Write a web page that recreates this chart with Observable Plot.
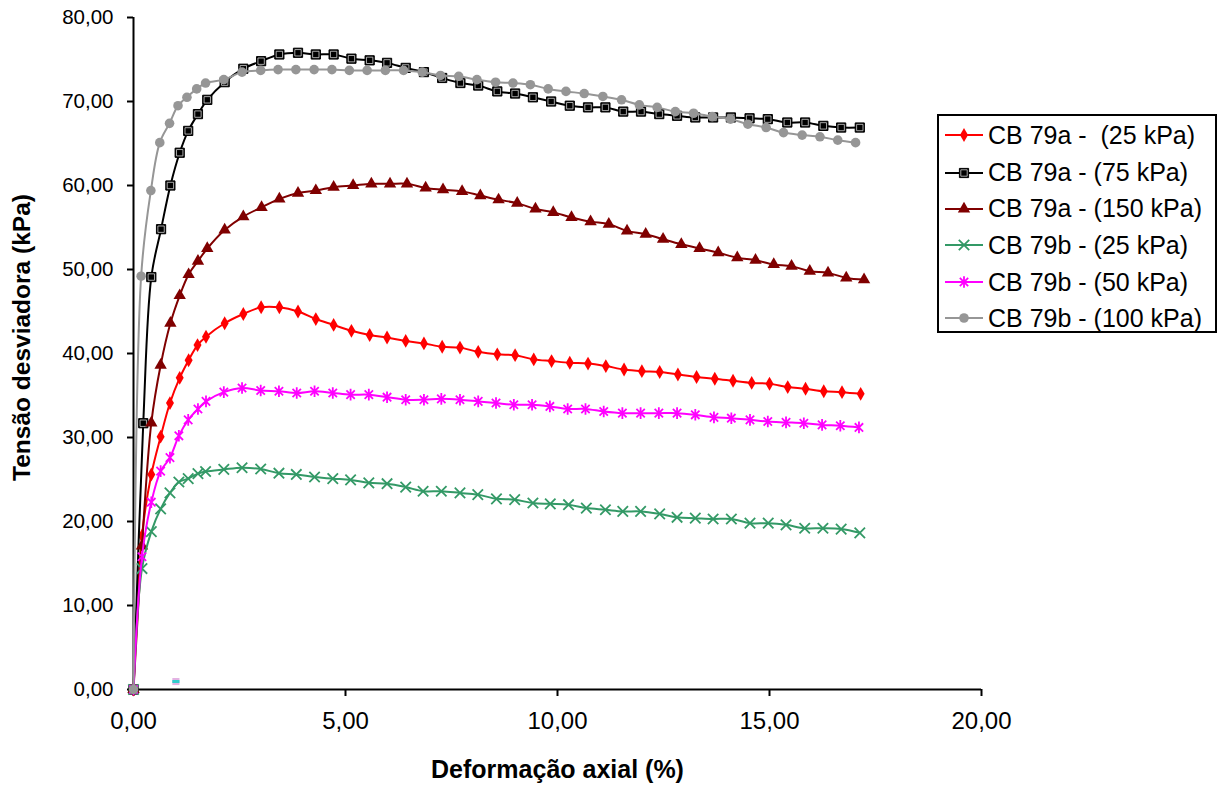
<!DOCTYPE html>
<html><head><meta charset="utf-8">
<script src="https://cdn.jsdelivr.net/npm/d3@7"></script>
<script src="https://cdn.jsdelivr.net/npm/@observablehq/plot@0.6"></script>
<style>
body{margin:0;background:#fff;font-family:"Liberation Sans",Arial,sans-serif;}
#wrap{position:relative;width:1224px;height:794px;}
#legend{position:absolute;left:937px;top:114px;width:276px;height:215px;border:2px solid #000;background:#fff;box-sizing:content-box;}
.row{position:absolute;left:6px;height:30px;display:flex;align-items:center;}
.row span{font-size:25px;margin-left:5px;white-space:pre;color:#000;}
</style></head><body><div id="wrap"></div>
<script>
// ---- data ----
const xTicks = [0, 5, 10, 15, 20];
const yTicks = [0, 10, 20, 30, 40, 50, 60, 70, 80];
const seriesNames = ["CB 79a -  (25 kPa)", "CB 79a - (75 kPa)", "CB 79a - (150 kPa)", "CB 79b - (25 kPa)", "CB 79b - (50 kPa)", "CB 79b - (100 kPa)"];

const x_79a_25 = [0, 0.2, 0.42, 0.64, 0.86, 1.09, 1.30, 1.51, 1.71, 2.15, 2.59, 3.01, 3.44, 3.88, 4.30, 4.72, 5.14, 5.57, 5.98, 6.42, 6.85, 7.28, 7.70, 8.13, 8.58, 9.0, 9.44, 9.86, 10.29, 10.72, 11.14, 11.57, 11.99, 12.41, 12.84, 13.28, 13.71, 14.14, 14.58, 15.0, 15.43, 15.85, 16.28, 16.71, 17.15];
const y_79a_25 = [0, 18.3, 25.6, 30.1, 34.1, 37.1, 39.2, 41.0, 42.0, 43.6, 44.7, 45.5, 45.5, 45.0, 44.1, 43.4, 42.7, 42.2, 41.9, 41.5, 41.2, 40.8, 40.7, 40.2, 39.9, 39.8, 39.3, 39.1, 38.9, 38.8, 38.5, 38.1, 37.9, 37.8, 37.5, 37.2, 37.0, 36.75, 36.5, 36.4, 36.0, 35.8, 35.5, 35.4, 35.2];

const x_79a_75 = [0, 0.23, 0.42, 0.65, 0.87, 1.09, 1.29, 1.52, 1.74, 2.15, 2.59, 3.01, 3.44, 3.88, 4.30, 4.72, 5.14, 5.57, 5.98, 6.42, 6.85, 7.28, 7.71, 8.13, 8.58, 9.0, 9.42, 9.85, 10.29, 10.72, 11.13, 11.55, 11.97, 12.40, 12.82, 13.25, 13.67, 14.09, 14.53, 14.96, 15.42, 15.84, 16.27, 16.69, 17.13];
const y_79a_75 = [0, 31.7, 49.1, 54.8, 60.0, 63.9, 66.5, 68.5, 70.2, 72.3, 73.9, 74.8, 75.6, 75.8, 75.6, 75.6, 75.1, 74.9, 74.6, 74.0, 73.5, 72.8, 72.2, 71.9, 71.2, 70.95, 70.5, 70.0, 69.5, 69.3, 69.3, 68.8, 68.8, 68.5, 68.3, 68.1, 68.1, 68.1, 68.0, 67.9, 67.5, 67.5, 67.1, 66.9, 66.9];

const x_79a_150 = [0, 0.2, 0.42, 0.64, 0.87, 1.09, 1.30, 1.52, 1.74, 2.15, 2.59, 3.02, 3.44, 3.88, 4.30, 4.72, 5.18, 5.61, 6.05, 6.45, 6.89, 7.30, 7.75, 8.18, 8.61, 9.05, 9.48, 9.90, 10.33, 10.78, 11.21, 11.64, 12.08, 12.49, 12.92, 13.35, 13.79, 14.24, 14.67, 15.10, 15.52, 15.95, 16.38, 16.81, 17.23];
const y_79a_150 = [0, 17.1, 31.75, 38.6, 43.6, 46.9, 49.4, 51.0, 52.5, 54.7, 56.3, 57.4, 58.4, 59.1, 59.4, 59.8, 60.0, 60.2, 60.2, 60.2, 59.7, 59.5, 59.3, 58.8, 58.3, 57.9, 57.2, 56.8, 56.2, 55.7, 55.4, 54.6, 54.2, 53.6, 53.0, 52.5, 52.0, 51.4, 51.1, 50.6, 50.4, 49.8, 49.6, 49.0, 48.8];

const x_79b_25 = [0, 0.2, 0.42, 0.64, 0.86, 1.07, 1.29, 1.52, 1.70, 2.13, 2.56, 3.0, 3.43, 3.84, 4.27, 4.70, 5.12, 5.55, 5.98, 6.42, 6.83, 7.26, 7.70, 8.12, 8.56, 8.99, 9.42, 9.83, 10.26, 10.68, 11.13, 11.54, 11.96, 12.41, 12.82, 13.25, 13.67, 14.1, 14.54, 14.97, 15.39, 15.83, 16.26, 16.69, 17.13];
const y_79b_25 = [0, 14.4, 18.8, 21.5, 23.4, 24.7, 25.1, 25.7, 25.95, 26.2, 26.4, 26.25, 25.75, 25.6, 25.3, 25.1, 24.95, 24.6, 24.5, 24.1, 23.6, 23.6, 23.4, 23.2, 22.7, 22.6, 22.2, 22.1, 22.0, 21.6, 21.4, 21.2, 21.2, 20.9, 20.5, 20.4, 20.3, 20.3, 19.8, 19.8, 19.6, 19.2, 19.2, 19.1, 18.65];

const x_79b_50 = [0, 0.2, 0.42, 0.64, 0.86, 1.07, 1.29, 1.52, 1.71, 2.13, 2.56, 3.0, 3.43, 3.85, 4.27, 4.70, 5.12, 5.55, 5.98, 6.42, 6.85, 7.26, 7.70, 8.13, 8.55, 8.97, 9.40, 9.82, 10.24, 10.66, 11.09, 11.53, 11.96, 12.39, 12.82, 13.25, 13.69, 14.1, 14.54, 14.96, 15.39, 15.81, 16.24, 16.67, 17.11];
const y_79b_50 = [0, 15.8, 22.3, 26.0, 27.6, 30.2, 32.1, 33.4, 34.3, 35.4, 35.9, 35.6, 35.5, 35.3, 35.5, 35.3, 35.1, 35.1, 34.8, 34.5, 34.5, 34.6, 34.5, 34.3, 34.1, 33.9, 33.9, 33.7, 33.4, 33.4, 33.1, 32.9, 32.9, 32.9, 32.9, 32.7, 32.4, 32.3, 32.1, 31.9, 31.8, 31.7, 31.5, 31.4, 31.2];

const x_79b_100 = [0, 0.18, 0.41, 0.62, 0.85, 1.05, 1.26, 1.49, 1.70, 2.13, 2.56, 3.0, 3.41, 3.83, 4.26, 4.68, 5.09, 5.51, 5.94, 6.37, 6.81, 7.24, 7.67, 8.10, 8.54, 8.95, 9.36, 9.78, 10.20, 10.63, 11.07, 11.51, 11.93, 12.35, 12.78, 13.21, 13.65, 14.08, 14.49, 14.92, 15.33, 15.77, 16.19, 16.61, 17.03];
const y_79b_100 = [0, 49.2, 59.4, 65.1, 67.4, 69.5, 70.5, 71.5, 72.2, 72.6, 73.5, 73.7, 73.8, 73.8, 73.8, 73.8, 73.7, 73.7, 73.7, 73.7, 73.5, 73.1, 73.0, 72.6, 72.3, 72.2, 72.0, 71.5, 71.2, 70.95, 70.6, 70.2, 69.6, 69.3, 68.8, 68.6, 68.2, 67.9, 67.3, 66.9, 66.3, 66.0, 65.8, 65.4, 65.1];

// stray marker left near (1, 1) in the original
const x_stray = [1.0];
const y_stray = [0.95];

// ---- styling ----
const fmt = d => d.toFixed(2).replace(".", ",");
const starX = {draw(ctx, size){ const r = Math.sqrt(size/Math.PI); const a = r*0.72;
  ctx.moveTo(-a,-a); ctx.lineTo(a,a); ctx.moveTo(a,-a); ctx.lineTo(-a,a); ctx.moveTo(0,-r); ctx.lineTo(0,r);}};
const hbar = {draw(ctx, size){ const r = Math.sqrt(size/Math.PI); ctx.moveTo(-r,0); ctx.lineTo(r,0);}};

const series = [
  {name: seriesNames[0], xs: x_79a_25, ys: y_79a_25, color: "#FF0000", kind: "diamond"},
  {name: seriesNames[1], xs: x_79a_75, ys: y_79a_75, color: "#000000", kind: "square"},
  {name: seriesNames[2], xs: x_79a_150, ys: y_79a_150, color: "#800000", kind: "triangle"},
  {name: seriesNames[3], xs: x_79b_25, ys: y_79b_25, color: "#339966", kind: "times"},
  {name: seriesNames[4], xs: x_79b_50, ys: y_79b_50, color: "#FF00FF", kind: "star"},
  {name: seriesNames[5], xs: x_79b_100, ys: y_79b_100, color: "#969696", kind: "circle"}
];
const R = {diamond: 4.2, square: 5.2, squareIn: 3.6, triangle: 4.6, times: 4.8, star: 5.8, circle: 4.8};

function markerMarks(data, s){
  const base = {x: "x", y: "y"};
  switch(s.kind){
    case "diamond": return [Plot.dot(data, {...base, symbol: "diamond", r: R.diamond, fill: s.color})];
    case "square": return [Plot.dot(data, {...base, symbol: "square", r: R.square, fill: "#000", stroke: "#000", strokeWidth: 1}),
                           Plot.dot(data, {...base, symbol: "square", r: R.squareIn, fill: "none", stroke: "#d0d0d0", strokeWidth: 0.8})];
    case "triangle": return [Plot.dot(data, {...base, symbol: "triangle", r: R.triangle, fill: s.color})];
    case "times": return [Plot.dot(data, {...base, symbol: "times", r: R.times, stroke: s.color, strokeWidth: 1.8, fill: "none"})];
    case "star": return [Plot.dot(data, {...base, symbol: starX, r: R.star, stroke: s.color, strokeWidth: 1.8, fill: "none"})];
    case "circle": return [Plot.dot(data, {...base, symbol: "circle", r: R.circle, fill: s.color})];
  }
}

const marks = [];
for (const s of series){
  const data = s.xs.map((x, i) => ({x, y: s.ys[i]}));
  marks.push(Plot.line(data, {x: "x", y: "y", stroke: s.color, strokeWidth: 2, curve: "catmull-rom"}));
  marks.push(...markerMarks(data, s));
}
const stray = x_stray.map((x, i) => ({x, y: y_stray[i]}));
marks.push(Plot.dot(stray, {x: "x", y: "y", symbol: "square", r: 4, fill: "#e3b3e3"}));
marks.push(Plot.dot(stray, {x: "x", y: "y", symbol: hbar, r: 3.6, stroke: "#33cccc", strokeWidth: 3}));

const chart = Plot.plot({
  width: 1224, height: 794,
  marginLeft: 133, marginRight: 243, marginTop: 17, marginBottom: 105,
  style: {fontFamily: "Liberation Sans, Arial, sans-serif", color: "#000", background: "#fff", overflow: "visible"},
  x: {domain: [0, 20]},
  y: {domain: [0, 80]},
  marks: [
    Plot.axisY({ticks: yTicks, tickFormat: fmt, tickSize: 6, tickPadding: 14, fontSize: 20.5, label: null, strokeWidth: 2}),
    Plot.axisX({ticks: xTicks, tickFormat: fmt, tickSize: 7, tickPadding: 15, fontSize: 24, label: null, strokeWidth: 2}),
    Plot.ruleX([0], {stroke: "#000", strokeWidth: 2}),
    Plot.ruleY([0], {stroke: "#000", strokeWidth: 2}),
    ...marks,
    Plot.text(["Deformação axial (%)"], {frameAnchor: "bottom", dy: 88, fontSize: 25, fontWeight: "bold", textAnchor: "middle"}),
    Plot.text(["Tensão desviadora (kPa)"], {frameAnchor: "left", dx: -111, dy: -16, rotate: -90, fontSize: 24.5, fontWeight: "bold", textAnchor: "middle"})
  ]
});
const wrap = document.getElementById("wrap");
wrap.appendChild(chart);

// ---- legend ----
const legend = document.createElement("div");
legend.id = "legend";
wrap.appendChild(legend);
const rowCenters = [19, 56.7, 92.7, 129.3, 166, 202];
series.forEach((s, i) => {
  const row = document.createElement("div");
  row.className = "row";
  row.style.top = (rowCenters[i] - 15) + "px";
  const svg = d3.create("svg").attr("width", 38).attr("height", 30);
  svg.append("line").attr("x1", 0).attr("x2", 38).attr("y1", 15).attr("y2", 15).attr("stroke", s.color).attr("stroke-width", 2);
  const g = svg.append("g").attr("transform", "translate(19,15)");
  const A = r => Math.PI * r * r;
  if (s.kind === "diamond") g.append("path").attr("d", d3.symbol(d3.symbolDiamond, A(R.diamond))()).attr("fill", s.color);
  if (s.kind === "square") { g.append("path").attr("d", d3.symbol(d3.symbolSquare, A(R.square))()).attr("fill", "#000").attr("stroke", "#000");
    g.append("path").attr("d", d3.symbol(d3.symbolSquare, A(R.squareIn))()).attr("fill", "none").attr("stroke", "#d0d0d0").attr("stroke-width", 0.8); }
  if (s.kind === "triangle") g.append("path").attr("d", d3.symbol(d3.symbolTriangle, A(R.triangle))()).attr("fill", s.color);
  if (s.kind === "times") g.append("path").attr("d", d3.symbol(d3.symbolTimes, A(R.times))()).attr("stroke", s.color).attr("stroke-width", 1.8).attr("fill", "none");
  if (s.kind === "star") g.append("path").attr("d", d3.symbol(starX, A(R.star))()).attr("stroke", s.color).attr("stroke-width", 1.8).attr("fill", "none");
  if (s.kind === "circle") g.append("path").attr("d", d3.symbol(d3.symbolCircle, A(R.circle))()).attr("fill", s.color);
  row.appendChild(svg.node());
  const t = document.createElement("span");
  t.textContent = s.name;
  row.appendChild(t);
  legend.appendChild(row);
});
</script></body></html>
